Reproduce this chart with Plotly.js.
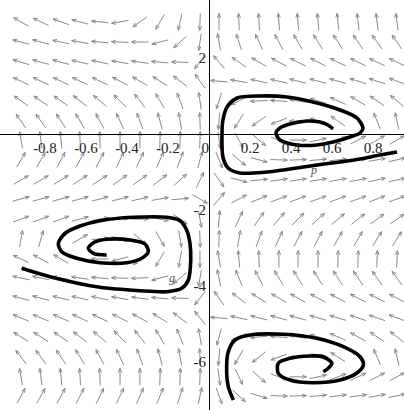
<!DOCTYPE html>
<html>
<head>
<meta charset="utf-8">
<script src="https://cdn.plot.ly/plotly-3.0.1.min.js"></script>
<style>html,body{margin:0;padding:0;background:#fff;}#plot{width:404px;height:410px;}</style>
</head>
<body>
<div id="plot"></div>
<script>
// ---------- data ----------
// direction-field grid (p on x, g on y)
const colX = [-0.917,-0.820,-0.722,-0.629,-0.532,-0.434,-0.337,-0.239,-0.141,-0.044,
               0.049, 0.146, 0.244, 0.341, 0.434, 0.532, 0.629, 0.727, 0.820, 0.917];
const rowY = [2.95,2.42,1.89,1.39,0.87,0.34,-0.16,-0.68,-1.21,-1.71,
              -2.24,-2.76,-3.29,-3.79,-4.32,-4.84,-5.34,-5.87,-6.39,-6.89];
// arrow directions in degrees (0 = right, 90 = up), one row per rowY, one entry per colX
const arrowAngles = [
 [150,155,160,165,175,190,215,240,258,268,  90, 92, 93, 94, 95, 95, 96, 96, 97, 97],
 [165,165,168,170,175,178,180,195,222,262, 100,108,115,118,120,122,123,124,125,125],
 [163,165,165,167,168,170,172,175,178,230, 130,145,150,152,153,153,154,154,155,155],
 [155,155,155,155,155,153,150,148,143,125, 175,170,168,167,166,165,165,163,162,160],
 [145,145,145,142,140,135,128,120,110, 98, 252,205,183,176,170,163,156,150,145,140],
 [125,125,123,120,118,115,110,105,100, 92, 265,238,215,200,180,160,145,130,112,102],
 [100, 97, 95, 93, 92, 90, 90, 88, 88, 88, 278,300,320,340,  0, 12, 22, 28, 30, 30],
 [ 60, 60, 62, 62, 63, 65, 65, 67, 70, 75, 292,320,345,358,  2,  5,  6,  8, 10, 12],
 [ 30, 30, 32, 33, 33, 35, 35, 38, 42, 65, 305,345,  5,  8,  9, 10, 10, 11, 12, 12],
 [ 15, 15, 15, 15, 15, 14, 13, 10,  5,330,  50, 28, 22, 20, 20, 20, 20, 20, 20, 20],
 [ 20, 20, 20, 15, 10,  5,  0,350,325,280,  85, 65, 55, 50, 45, 42, 40, 38, 36, 35],
 [ 80, 75, 60, 30,  5,345,320,300,280,272,  88, 80, 70, 65, 62, 62, 60, 60, 58, 58],
 [155,152,150,165,180,195,222,240,260,270, 100, 95, 92, 90, 90, 90, 89, 88, 88, 88],
 [168,168,170,172,175,178,182,195,220,260, 102,112,118,120,122,123,123,124,125,125],
 [165,165,166,167,168,170,172,175,178,232, 125,143,148,150,151,152,152,153,153,153],
 [158,158,157,156,155,154,152,148,143,128, 175,168,166,165,165,164,163,162,161,160],
 [148,147,146,143,140,135,128,120,112,100, 255,205,185,176,170,164,157,151,146,142],
 [127,126,124,121,118,114,110,105,100, 92, 265,240,218,200,180,160,148,132,113,103],
 [100, 97, 95, 93, 92, 90, 90, 88, 88, 88, 278,295,318,340,  0, 12, 20, 25, 27, 28],
 [ 62, 61, 62, 63, 64, 65, 66, 68, 72, 78, 290,318,343,358,  2,  5,  7,  8, 10, 12]
];

// solution curves
const curveA_p = [0.917,0.834,0.737,0.639,0.527,0.395,0.283,0.151,0.093,0.068,0.063,0.068,0.088,0.137,0.249,0.380,0.507,0.639,0.722,0.751,0.737,0.688,0.605,0.527,0.429,0.346,0.327,0.346,0.395,0.478,0.541,0.580,0.605];
const curveA_g = [-0.474,-0.553,-0.658,-0.737,-0.816,-0.921,-1.0,-1.026,-0.895,-0.605,-0.158,0.368,0.711,0.947,1.0,0.974,0.842,0.632,0.421,0.158,0.026,-0.079,-0.211,-0.289,-0.289,-0.158,0.026,0.158,0.263,0.342,0.316,0.237,0.132];

const curveB_p = [-0.914,-0.776,-0.532,-0.337,-0.206,-0.133,-0.101,-0.089,-0.093,-0.109,-0.141,-0.206,-0.369,-0.532,-0.629,-0.702,-0.735,-0.719,-0.645,-0.532,-0.401,-0.328,-0.296,-0.312,-0.385,-0.499,-0.564,-0.589,-0.564,-0.499];
const curveB_g = [-3.534,-3.755,-4.034,-4.124,-4.150,-4.061,-3.842,-3.316,-2.876,-2.526,-2.282,-2.192,-2.192,-2.282,-2.421,-2.613,-2.876,-3.097,-3.271,-3.387,-3.387,-3.271,-3.097,-2.895,-2.789,-2.771,-2.861,-3.008,-3.139,-3.184];

const curveC_p = [0.119,0.094,0.086,0.094,0.127,0.200,0.362,0.525,0.655,0.737,0.753,0.720,0.639,0.509,0.395,0.338,0.338,0.395,0.493,0.558,0.599,0.582,0.558];
const curveC_g = [-7.0,-6.650,-6.124,-5.729,-5.421,-5.289,-5.271,-5.376,-5.597,-5.861,-6.079,-6.297,-6.474,-6.545,-6.474,-6.297,-6.034,-5.903,-5.842,-5.861,-6.034,-6.166,-6.255];

const xTickVals = [-0.8,-0.6,-0.4,-0.2,0,0.2,0.4,0.6,0.8];
const xTickText = ['-0.8','-0.6','-0.4','-0.2','0\u2002','0.2','0.4','0.6','0.8'];
const yTickVals = [-6,-4,-2,2];
const yTickText = ['-6','-4','-2','2'];

// ---------- layout / drawing ----------
const W = 404, H = 410;
const xRange = [-1.0195, 0.9512];
const yRange = [-7.263, 3.526];
const kx = W / (xRange[1] - xRange[0]);   // px per unit
const ky = H / (yRange[1] - yRange[0]);

const ARROW_LEN = 17, HEAD_LEN = 4.5, HEAD_ANG = 22;
const ax = [], ay = [];
for (let r = 0; r < rowY.length; r++) {
  for (let c = 0; c < colX.length; c++) {
    const a = arrowAngles[r][c] * Math.PI / 180;
    const hx = ARROW_LEN / 2 * Math.cos(a) / kx;
    const hy = ARROW_LEN / 2 * Math.sin(a) / ky;
    const tx = colX[c] + hx, ty = rowY[r] + hy;
    ax.push(colX[c] - hx, tx, null);
    ay.push(rowY[r] - hy, ty, null);
    for (const s of [-1, 1]) {
      const b = a + Math.PI + s * HEAD_ANG * Math.PI / 180;
      ax.push(tx, tx + HEAD_LEN * Math.cos(b) / kx, null);
      ay.push(ty, ty + HEAD_LEN * Math.sin(b) / ky, null);
    }
  }
}

const curveStyle = {color: '#000', width: 3.6, shape: 'spline', smoothing: 0.8};
const traces = [
  {x: ax, y: ay, mode: 'lines', line: {color: '#8a8a8a', width: 1}, hoverinfo: 'skip'},
  {x: curveA_p, y: curveA_g, mode: 'lines', line: curveStyle},
  {x: curveB_p, y: curveB_g, mode: 'lines', line: curveStyle},
  {x: curveC_p, y: curveC_g, mode: 'lines', line: curveStyle}
];

const tickFont = {family: '"Liberation Serif", "DejaVu Serif", serif', size: 15, color: '#222'};
const layout = {
  width: W, height: H,
  margin: {l: 0, r: 0, t: 0, b: 0},
  paper_bgcolor: '#fff', plot_bgcolor: '#fff',
  showlegend: false,
  xaxis: {
    range: xRange, anchor: 'free',
    position: (0 - yRange[0]) / (yRange[1] - yRange[0]),
    showgrid: false, zeroline: false,
    showline: true, linecolor: '#000', linewidth: 1.3,
    ticks: '', tickmode: 'array', tickvals: xTickVals, ticktext: xTickText,
    tickfont: tickFont
  },
  yaxis: {
    range: yRange, anchor: 'free',
    position: (0 - xRange[0]) / (xRange[1] - xRange[0]),
    showgrid: false, zeroline: false,
    showline: true, linecolor: '#000', linewidth: 1.3,
    ticks: '', tickmode: 'array', tickvals: yTickVals, ticktext: yTickText,
    tickfont: tickFont
  },
  annotations: [
    {x: 0.51, y: -0.95, xref: 'x', yref: 'y', text: '<i>p</i>', showarrow: false,
     font: {family: '"Liberation Serif", serif', size: 12, color: '#555'}},
    {x: -0.18, y: -3.80, xref: 'x', yref: 'y', text: '<i>g</i>', showarrow: false,
     font: {family: '"Liberation Serif", serif', size: 12, color: '#555'}}
  ]
};

Plotly.newPlot('plot', traces, layout, {staticPlot: true, displayModeBar: false});
</script>
</body>
</html>
